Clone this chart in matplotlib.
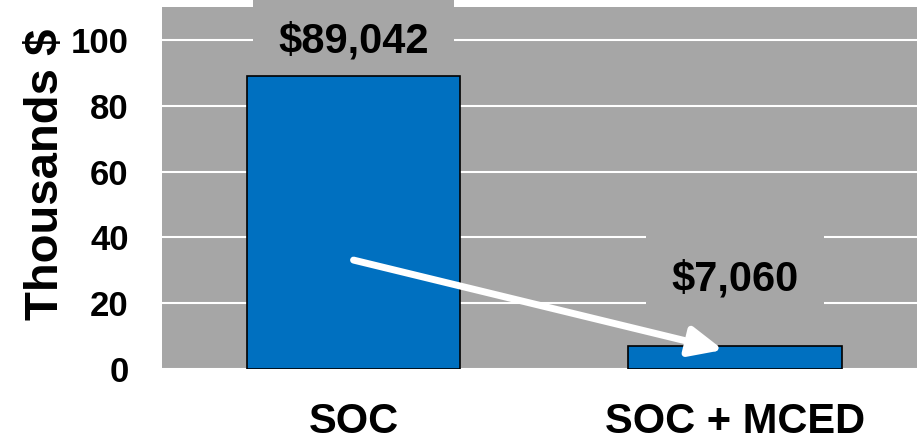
import matplotlib.pyplot as plt

# Costo por paciente (miles de dólares)
categories = ["SOC", "SOC + MCED"]
costs = [89.042, 7.060]
cost_labels = ["$89,042", "$7,060"]
yticks = [0, 20, 40, 60, 80, 100]

plt.rcParams['font.family'] = ['Liberation Sans', 'DejaVu Sans']
plt.rcParams['font.weight'] = 'bold'

gray = '#a6a6a6'
blue = '#0070c0'

fig = plt.figure(figsize=(9.17, 4.46), dpi=100)
ax = fig.add_axes([0.1767, 0.1726, 0.8233, 0.8117])
ax.set_facecolor(gray)

x = range(len(categories))
ax.bar(x, costs, width=0.56, color=blue, edgecolor='black', linewidth=1.2, zorder=3)

# etiquetas de valor sobre cada barra, con fondo gris que tapa la rejilla
label_offsets = [10.4, 20.0]
for xi, v, txt, off in zip(x, costs, cost_labels, label_offsets):
    ax.text(xi, v + off, txt, ha='center', va='center', fontsize=30,
            fontweight='bold', zorder=2, clip_on=False,
            bbox=dict(boxstyle='square,pad=0.6', facecolor=gray, edgecolor='none'))

# flecha de reducción del costo
ax.annotate('', xy=(0.969, 5.8), xytext=(0.0, 33.1),
            arrowprops=dict(arrowstyle='-|>,head_length=1.0,head_width=0.45',
                            color='white', lw=5, mutation_scale=20,
                            shrinkA=0, shrinkB=0), zorder=5)

ax.set_xlim(-0.502, 1.477)
ax.set_ylim(0, 110)
ax.set_yticks(yticks)
ax.set_xticks(list(x))
ax.set_xticklabels(categories, fontsize=30, fontweight='bold')
ax.tick_params(axis='y', length=0, pad=24, labelsize=25)
ax.tick_params(axis='x', length=0, pad=24)
ax.set_ylabel("Thousands $", fontsize=34, fontweight='bold')
ax.yaxis.set_label_coords(-0.1245, 0.539)

ax.grid(axis='y', color='white', linewidth=1.5, zorder=1)
ax.set_axisbelow(True)
for s in ax.spines.values():
    s.set_visible(False)

fig.savefig("out.png", dpi=100)
